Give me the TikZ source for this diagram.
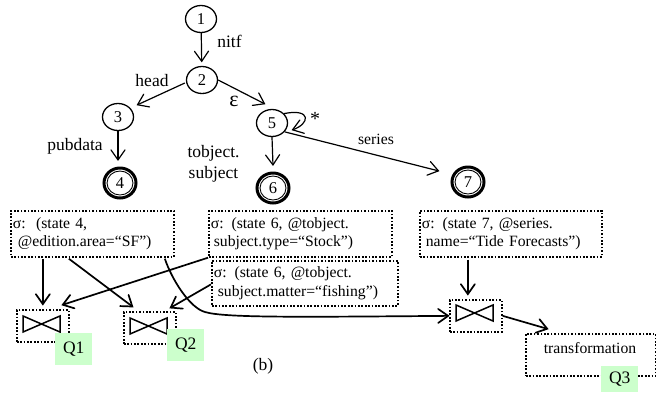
\documentclass[tikz,border=0pt]{standalone}
\usepackage{fontspec}
\setmainfont{Liberation Serif}
\usetikzlibrary{arrows.meta,shapes.geometric}
\pgfdeclarearrow{
  name=VeeOpen,
  parameters={\the\pgflinewidth},
  setup code={
    \pgfarrowssettipend{0.5\pgflinewidth}
    \pgfarrowssetlineend{0pt}
    \pgfarrowssetbackend{-10pt}
    \pgfarrowssetvisualbackend{-10pt}
    \pgfarrowshullpoint{-10pt}{7pt}
    \pgfarrowshullpoint{-10pt}{-7pt}
    \pgfarrowshullpoint{0pt}{0pt}
  },
  drawing code={
    \pgfsetdash{}{0pt}
    \pgfsetroundcap
    \pgfsetmiterjoin
    \pgfpathmoveto{\pgfpoint{-10pt}{7pt}}
    \pgfpathlineto{\pgfpointorigin}
    \pgfpathlineto{\pgfpoint{-10pt}{-7pt}}
    \pgfusepathqstroke
  }
}
\tikzset{
  st/.style={draw,ellipse,line width=1.3pt,minimum width=31pt,minimum height=27pt,inner sep=0pt,font=\fontsize{16.5}{16.5}\selectfont},
  fin/.style={draw,ellipse,line width=3pt,minimum width=32pt,minimum height=30pt,inner sep=0pt},
  fini/.style={draw,ellipse,line width=0.9pt,minimum width=26pt,minimum height=24pt,inner sep=0pt,font=\fontsize{16.5}{16.5}\selectfont},
  lab/.style={inner sep=0pt,font=\fontsize{17.5}{21}\selectfont},
  tx/.style={draw,dash pattern=on 1.7pt off 1.7pt,line width=1.7pt,anchor=north west,inner sep=0pt,font=\fontsize{15.7}{18.5}\selectfont},
  jn/.style={draw,dash pattern=on 1.7pt off 1.7pt,line width=1.7pt,anchor=north west,inner sep=0pt,minimum width=52pt,minimum height=32pt},
  qq/.style={fill=green!20,anchor=north west,inner sep=0pt,minimum width=37pt,minimum height=32pt,font=\fontsize{17.5}{20}\selectfont},
  ar/.style={-VeeOpen,line width=1.2pt},
  br/.style={-VeeOpen,line width=1.7pt},
  bow/.style={line width=1.5pt}
}
\begin{document}
\begin{tikzpicture}[x=1pt,y=-1pt]
\useasboundingbox (0,0) rectangle (656,392);
% states
\node[st] (n1) at (201,19) {1};
\node[st] (n2) at (202,80) {2};
\node[st] (n3) at (118,117) {3};
\node[fin] (n4) at (120,183) {};
\node[fini] (n4i) at (120,183) {4};
\node[st] (n5) at (272,123) {5};
\node[fin] (n6) at (273,188) {};
\node[fini] (n6i) at (273,188) {6};
\node[fin] (n7) at (468,182) {};
\node[fini] (n7i) at (468,182) {7};
% edges
\draw[ar,shorten >=4pt] (n1) -- (n2);
\draw[ar] ([xshift=-1pt,yshift=-3pt]n2.west) -- (137,105);
\draw[ar] (n2.east) -- (265,104);
\draw[ar] (n3.south) -- ([xshift=-2pt,yshift=6pt]n4.north);
\draw[ar] (n5.south) -- ([yshift=6pt]n6.north);
\draw[ar] (n5.-35) -- (439,171);
\draw[ar] (n5.38) .. controls (312,108) and (310,124) .. (292,130);
% edge labels
\node[lab] (l1) at (229.5,41) {nitf};
\node[lab] (l2) at (152,81) {head};
\node[lab] (l3) at (234,101) {\fontsize{22}{22}\selectfont ε};
\node[lab] (l4) at (75,146) {pubdata};
\node[lab,align=center] (l5) at (213.5,164) {tobject.\\subject};
\node[lab,font=\fontsize{20}{20}\selectfont] (l6) at (315,119) {*};
\node[inner sep=0pt,font=\fontsize{15.7}{18}\selectfont] (l7) at (376,139) {series};
% selection boxes
\node[tx,minimum width=163pt,minimum height=46pt,text width=161pt,align=left] (a) at (10,210) {\hspace*{1pt}σ:\ \ (state 4,\\\hspace*{6pt}@edition.area=“SF”)};
\node[tx,minimum width=183pt,minimum height=46pt,text width=181pt,align=left] (b) at (208,210) {\hspace*{1pt}σ: (state 6, @tobject.\\\hspace*{4pt}subject.type=“Stock”)};
\node[tx,minimum width=186pt,minimum height=45pt,text width=184pt,align=left] (c) at (211,260) {\hspace*{1pt}σ: (state 6, @tobject.\\\hspace*{5pt}subject.matter=“fishing”)};
\node[tx,minimum width=182pt,minimum height=46pt,text width=180pt,align=left] (d) at (419,210) {\hspace*{1pt}σ: (state 7, @series.\\\hspace*{5pt}name=“Tide Forecasts”)};
% joins
\node[jn] (j1) at (16,309) {};
\node[jn] (j2) at (123,311) {};
\node[jn] (j3) at (449,299) {};
\draw[bow] (23,316) -- (60,332) -- (60,316) -- (23,332) -- cycle;
\draw[bow] (130,318) -- (167,334) -- (167,318) -- (130,334) -- cycle;
\draw[bow] (456,305) -- (493,321) -- (493,305) -- (456,321) -- cycle;
% transformation
\node[tx,minimum width=130pt,minimum height=42pt] (t) at (525,333) {};
\node[inner sep=0pt,font=\fontsize{15.7}{18}\selectfont] (tl) at (590,348) {transformation};
% query tags
\node[qq] (q1) at (55,333) {Q1};
\node[qq] (q2) at (167,329) {Q2};
\node[qq,minimum height=26pt] (q3) at (601,366) {Q3};
% connectors
\draw[br] ([xshift=-49.5pt,yshift=-1pt]a.south) -- ([yshift=4pt]j1.north);
\draw[br] ([xshift=-23.5pt,yshift=-1pt]a.south) -- (133,307);
\draw[br] ([xshift=72.5pt,yshift=-1pt]a.south) .. controls (172,280) and (190,308) .. (205,312) .. controls (225,318) and (300,317) .. (j3.west);
\draw[br] (b.south west) -- (62,305);
\draw[br] ([yshift=-1pt]c.west) -- (170,308);
\draw[br] ([xshift=-43pt,yshift=-2pt]d.south) -- ([xshift=-8pt,yshift=4pt]j3.north);
\draw[br] (j3.east) -- (548,329);
\node[lab] (cap) at (263,366) {(b)};
\end{tikzpicture}
\end{document}
